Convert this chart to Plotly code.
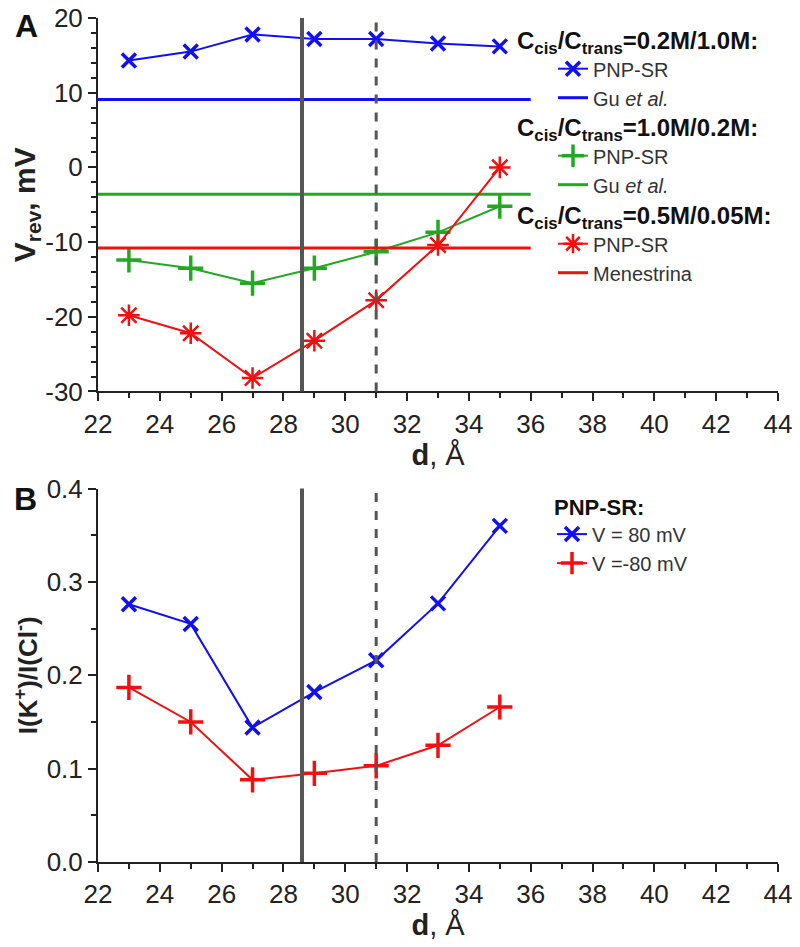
"""Vrev et rapport I(K+)/I(Cl-) en fonction du diamètre d (panneaux A et B)."""

import plotly.graph_objects as go
from plotly.subplots import make_subplots

# --- données ---
d = [23, 25, 27, 29, 31, 33, 35]
vrev_02_10 = [14.3, 15.5, 17.8, 17.2, 17.2, 16.6, 16.2]
vrev_10_02 = [-12.4, -13.5, -15.5, -13.5, -11.3, -8.7, -5.2]
vrev_05_005 = [-19.8, -22.2, -28.2, -23.2, -17.8, -10.4, 0.0]

ref_d = [22, 36]
gu_02_10 = [9.1, 9.1]
gu_10_02 = [-3.6, -3.6]
menestrina = [-10.8, -10.8]

ratio_p80 = [0.276, 0.255, 0.144, 0.182, 0.216, 0.277, 0.360]
ratio_m80 = [0.187, 0.150, 0.088, 0.095, 0.103, 0.125, 0.166]

d_solid = 28.6
d_dashed = 31.0

x_ticks = list(range(22, 45, 2))
vrev_ticks = [-30, -20, -10, 0, 10, 20]
vrev_labels = [str(v) for v in vrev_ticks]

BLUE = "#1010f0"
GREEN = "#22a822"
RED = "#f01010"
GRAY = "#555555"
FONT = "Liberation Sans, Arial, sans-serif"

# la page HTML a une marge de 8 px : on décale la figure pour compenser
PAGE = 8
W, H = 800 - PAGE, 947 - PAGE
ML, MR, MT, MB = 98 - PAGE, 22, 18 - PAGE, 85
PW, PH = W - ML - MR, H - MT - MB


def px_to_paper(px, py):
    """Position en pixels de la fenêtre -> coordonnées paper."""
    return (px - PAGE - ML) / PW, (H - MB - (py - PAGE)) / PH


fig = make_subplots(rows=2, cols=1, vertical_spacing=0.115)

title_font = dict(family=FONT, size=24, color="#111")
item_font = dict(family=FONT, size=20, color="#333")


def head(txt):
    return f"<b>C<sub>cis</sub>/C<sub>trans</sub>={txt}:</b>"


# panneau A
fig.add_trace(go.Scatter(
    x=d, y=vrev_02_10, name="PNP-SR", legend="legend", mode="lines+markers",
    line=dict(color=BLUE, width=2),
    marker=dict(symbol="x-thin", size=14, line=dict(color=BLUE, width=3.5)),
), row=1, col=1)
fig.add_trace(go.Scatter(
    x=ref_d, y=gu_02_10, name="Gu <i>et al.</i>", legend="legend", mode="lines",
    line=dict(color=BLUE, width=3),
), row=1, col=1)
fig.add_trace(go.Scatter(
    x=d, y=vrev_10_02, name="PNP-SR", legend="legend2", mode="lines+markers",
    line=dict(color=GREEN, width=2),
    marker=dict(symbol="cross-thin", size=18, line=dict(color=GREEN, width=3.5)),
), row=1, col=1)
fig.add_trace(go.Scatter(
    x=ref_d, y=gu_10_02, name="Gu <i>et al.</i>", legend="legend2", mode="lines",
    line=dict(color=GREEN, width=3),
), row=1, col=1)
fig.add_trace(go.Scatter(
    x=d, y=vrev_05_005, name="PNP-SR", legend="legend3", mode="lines+markers",
    line=dict(color=RED, width=2),
    marker=dict(symbol="asterisk-open", size=18, line=dict(color=RED, width=2.5)),
), row=1, col=1)
fig.add_trace(go.Scatter(
    x=ref_d, y=menestrina, name="Menestrina", legend="legend3", mode="lines",
    line=dict(color=RED, width=3),
), row=1, col=1)

# panneau B
fig.add_trace(go.Scatter(
    x=d, y=ratio_p80, name="V = 80 mV", legend="legend4", mode="lines+markers",
    line=dict(color=BLUE, width=2),
    marker=dict(symbol="x-thin", size=14, line=dict(color=BLUE, width=3.5)),
), row=2, col=1)
fig.add_trace(go.Scatter(
    x=d, y=ratio_m80, name="V =-80 mV", legend="legend4", mode="lines+markers",
    line=dict(color=RED, width=2),
    marker=dict(symbol="cross-thin", size=18, line=dict(color=RED, width=3.5)),
), row=2, col=1)

for r in (1, 2):
    fig.add_vline(x=d_solid, line=dict(color=GRAY, width=4), row=r, col=1)
    fig.add_vline(x=d_dashed, line=dict(color=GRAY, width=3, dash="dash"), row=r, col=1)

axis_common = dict(
    showline=True, linecolor="#222", linewidth=2, mirror=False,
    ticks="outside", ticklen=8, tickwidth=2, tickcolor="#222",
    showgrid=False, zeroline=False, automargin=False, ticklabeloverflow="allow",
    tickfont=dict(family=FONT, size=26, color="#222"),
)
for r in (1, 2):
    fig.update_xaxes(
        range=[22, 44], tickvals=x_ticks,
        minor=dict(dtick=1, ticks="outside", ticklen=5, tickwidth=2, tickcolor="#222"),
        title=dict(text="<b>d</b>, Å", font=dict(family=FONT, size=29, color="#222"), standoff=2),
        row=r, col=1, **axis_common,
    )
fig.update_yaxes(
    range=[-30, 20], tickvals=vrev_ticks, ticktext=vrev_labels,
    minor=dict(dtick=2, ticks="outside", ticklen=5, tickwidth=2, tickcolor="#222"),
    title=dict(text="<b>V<sub>rev</sub>, mV</b>", font=dict(family=FONT, size=30, color="#222"), standoff=2),
    row=1, col=1, **axis_common,
)
fig.update_yaxes(
    range=[0, 0.4], dtick=0.1, tickformat=".1f",
    minor=dict(dtick=0.05, ticks="outside", ticklen=5, tickwidth=2, tickcolor="#222"),
    title=dict(text="<b>I(K<sup>+</sup>)/I(Cl<sup>-</sup>)</b>",
               font=dict(family=FONT, size=26, color="#222"), standoff=2),
    row=2, col=1, **axis_common,
)


def legend_box(top_px, txt):
    lx, ly = px_to_paper(515, top_px)
    return dict(
        x=lx, y=ly, xanchor="left", yanchor="top", bgcolor="rgba(0,0,0,0)",
        title=dict(text=txt, font=title_font), font=item_font,
        indentation=38, itemwidth=30, tracegroupgap=0,
    )


l4x, l4y = px_to_paper(552, 486)
fig.update_layout(
    width=W, height=H,
    margin=dict(l=ML, r=MR, t=MT, b=MB),
    paper_bgcolor="white", plot_bgcolor="white",
    font=dict(family=FONT, color="#222"),
    legend=legend_box(18, head("0.2M/1.0M")),
    legend2=legend_box(105, head("1.0M/0.2M")),
    legend3=legend_box(193, head("0.5M/0.05M")),
    legend4=dict(
        x=l4x, y=l4y, xanchor="left", yanchor="top", bgcolor="rgba(0,0,0,0)",
        title=dict(text="<b>PNP-SR:</b>", font=dict(family=FONT, size=22, color="#111")),
        font=item_font, itemwidth=30,
    ),
)

# lettres de panneau
for label, (px, py) in [("A", (26, 26)), ("B", (25, 499))]:
    ax_, ay_ = px_to_paper(px, py)
    fig.add_annotation(
        text=f"<b>{label}</b>", x=ax_, y=ay_, xref="paper", yref="paper",
        xanchor="center", yanchor="middle", showarrow=False,
        font=dict(family=FONT, size=32, color="#111"),
    )

fig.write_html("out.html")
